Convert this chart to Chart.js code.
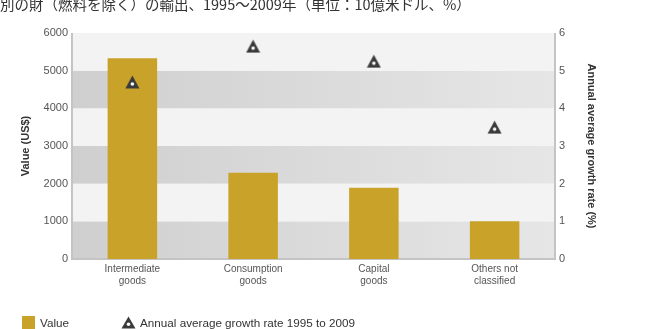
<!DOCTYPE html>
<html>
<head>
<meta charset="utf-8">
<script src="https://cdn.jsdelivr.net/npm/chart.js@4/dist/chart.umd.min.js"></script>
<style>
body{margin:0;background:#fff;overflow:hidden;}
#wrap{position:relative;width:660px;height:329px;}
#title{position:absolute;left:0;top:-7px;font:14.5px "Noto Sans CJK JP",serif;color:#333;white-space:nowrap;}
.leg{position:absolute;font:11.7px "Liberation Sans",Arial,sans-serif;color:#333;white-space:nowrap;}
</style>
</head>
<body>
<div id="wrap">
<canvas id="chart" width="660" height="329"></canvas>
<div id="title">別の財（燃料を除く）の輸出、1995〜2009年（単位：10億米ドル、%）</div>
<div class="leg" style="left:22px;top:316px;"><span style="display:inline-block;width:13px;height:13px;background:#c9a22a;vertical-align:-2px;margin-right:5px;"></span>Value</div>
<div class="leg" style="left:121px;top:316px;"><canvas id="legTri" width="15" height="13" style="vertical-align:-2px;margin-right:4px;"></canvas>Annual average growth rate 1995 to 2009</div>
</div>
<script>
const categories = [["Intermediate","goods"],["Consumption","goods"],["Capital","goods"],["Others not","classified"]];
const values = [5330, 2290, 1890, 1000];
const growth = [4.7, 5.65, 5.25, 3.5];

function makeTriangle(c){
const ctx = c.getContext("2d");
const w = c.width, h = c.height;
ctx.fillStyle = "#3a3a3a";
ctx.beginPath();
ctx.moveTo(w/2, 0.5);
ctx.lineTo(w-0.5, h-0.5);
ctx.lineTo(0.5, h-0.5);
ctx.closePath();
ctx.fill();
ctx.fillStyle = "#fff";
ctx.beginPath();
ctx.arc(w/2, h*0.64, 1.8, 0, Math.PI*2);
ctx.fill();
return c;
}

const tri = document.createElement("canvas");
tri.width = 15; tri.height = 14;
makeTriangle(tri);
makeTriangle(document.getElementById("legTri"));

// striped background
const bands = {
id:"bands",
beforeDatasetsDraw(chart){
const ctx = chart.ctx, a = chart.chartArea, y = chart.scales.y;
ctx.save();
for(let v=0; v<6000; v+=1000){
const top = y.getPixelForValue(v+1000), bot = y.getPixelForValue(v);
if((v/1000)%2===0){
const g = ctx.createLinearGradient(a.left,0,a.right,0);
g.addColorStop(0,"#cfcfcf");
g.addColorStop(1,"#e6e6e6");
ctx.fillStyle = g;
}else{
ctx.fillStyle = "#f3f3f3";
}
ctx.fillRect(a.left, top, a.right-a.left, bot-top);
}
ctx.strokeStyle = "#c4c4c4";
ctx.lineWidth = 2;
ctx.beginPath();
ctx.moveTo(a.left, a.top);
ctx.lineTo(a.left, a.bottom);
ctx.lineTo(a.right, a.bottom);
ctx.lineTo(a.right, a.top);
ctx.stroke();
ctx.restore();
}
};

const tickFont = {family:"Liberation Sans, Arial, sans-serif", size:10};
const yTickFont = {family:"Liberation Sans, Arial, sans-serif", size:11};
const axTitleFont = {family:"Liberation Sans, Arial, sans-serif", size:11, weight:"bold"};

new Chart(document.getElementById("chart"),{
type:"bar",
data:{
labels:categories,
datasets:[
{
type:"line",
label:"Annual average growth rate 1995 to 2009",
data:growth,
yAxisID:"y1",
showLine:false,
pointStyle:tri,
pointRadius:7,
order:0
},
{
label:"Value",
data:values,
backgroundColor:"#c9a22a",
barPercentage:0.41,
categoryPercentage:1,
yAxisID:"y",
order:1
}
]
},
options:{
responsive:false,
animation:false,
layout:{padding:{left:19,right:62,top:33,bottom:35}},
plugins:{legend:{display:false},tooltip:{enabled:false}},
scales:{
x:{
grid:{display:false,drawTicks:false},
border:{display:false},
ticks:{color:"#555",font:tickFont,padding:4},
afterFit(s){s.height = 35;}
},
y:{
min:0,max:6000,
ticks:{stepSize:1000,color:"#555",font:yTickFont,padding:4,callback:v => String(v)},
grid:{display:false,drawTicks:false},
border:{display:false},
title:{display:true,text:"Value (US$)",color:"#333",font:axTitleFont,padding:{top:0,bottom:0}},
afterFit(s){s.width = 53;}
},
y1:{
position:"right",
min:0,max:6,
ticks:{stepSize:1,color:"#555",font:yTickFont,padding:4},
grid:{display:false,drawTicks:false},
border:{display:false},
title:{display:true,text:"Annual average growth rate (%)",color:"#333",font:axTitleFont,padding:{top:0,bottom:0}},
afterFit(s){s.width = 43;}
}
}
},
plugins:[bands]
});
</script>
</body>
</html>
